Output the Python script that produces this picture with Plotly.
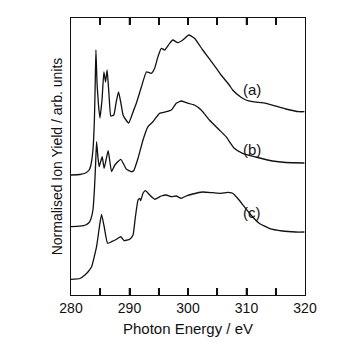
import plotly.graph_objects as go

# Photon energy (eV) and normalised ion yield (arb. units) for each spectrum
energy_a = [280, 281.5, 282.5, 283.1, 283.4, 283.75, 284.0, 284.15, 284.26, 284.45, 284.7, 284.95,
            285.3, 285.62, 285.91, 286.18, 286.5, 286.81, 287.32, 287.7, 288.12, 288.5, 288.9, 289.4,
            289.87, 290.6, 291.18, 292.03, 292.89, 293.74, 294.3, 294.86, 295.44, 296.0, 296.85,
            297.41, 298.26, 299.11, 300.14, 301.11, 302.52, 304.22, 305.65, 307.06, 307.63, 309.06,
            309.91, 311.03, 313.31, 316.71, 318.98, 319.9]
yield_a = [120, 120.5, 122, 125, 130, 145, 175, 215, 245, 212, 190, 177,
           195, 223, 213, 225, 200, 179, 180, 192, 203, 193, 180, 175,
           172, 183, 192, 208, 223, 221.7, 226.7, 238.3, 246.7, 245, 251.7,
           255, 252.3, 255, 260, 256.7, 245, 231.7, 220, 210, 205, 197.7,
           195, 193.3, 191.7, 186, 183.3, 183.3]

energy_b = [280, 281.5, 282.5, 283.1, 283.4, 283.75, 284.0, 284.2, 284.37, 284.6, 284.82, 285.33,
            285.67, 286.35, 286.93, 287.49, 288.51, 289.48, 290.33, 290.72, 291.46, 292.31, 293.16,
            294.01, 295.15, 296.29, 297.14, 297.99, 298.84, 299.69, 301.11, 302.25, 303.66, 305.36,
            306.5, 307.91, 309.33, 311.6, 314.43, 316.71, 319.9]
yield_b = [68.3, 68.8, 70, 72.5, 76, 85, 105, 130, 153.3, 138, 128.3, 138.3,
           126.7, 144.3, 123.3, 130, 135.7, 125.7, 123.3, 124.3, 136.7, 155, 168.3,
           173.3, 181.7, 183.3, 185, 191.7, 194, 192.3, 190, 185, 175, 165,
           158.3, 146.7, 141.7, 138, 134, 132.5, 132]

energy_c = [280, 281.53, 282.38, 282.89, 283.52, 284.37, 284.94, 285.23, 285.67, 286.25, 286.93,
            287.78, 288.51, 289.07, 290.04, 290.6, 291.01, 291.46, 291.74, 291.91, 292.31, 292.71,
            293.45, 294.3, 295.44, 296.29, 297.14, 297.99, 298.84, 299.69, 300.82, 302.52, 304.22,
            305.65, 306.77, 307.63, 308.48, 309.62, 310.76, 312.17, 313.87, 316.14, 318.42, 319.9]
yield_c = [15.7, 16.5, 20, 23, 28.3, 48.3, 71.7, 80.7, 68.3, 51.7, 53.3,
           55.7, 58.3, 54.3, 55.7, 60, 78.3, 95, 96.7, 94.3, 101.7, 104.3,
           100, 95.7, 99, 100, 98.3, 99, 96.7, 99, 101, 103, 102.3,
           101.7, 102.7, 101.7, 96.7, 88.3, 80, 71.7, 66.7, 64, 63, 63]

labels = ["(a)", "(b)", "(c)"]
label_x = [311.0, 311.0, 311.0]
label_y = [206, 146, 83]

x_tick_vals = [280, 285, 290, 295, 300, 305, 310, 315, 320]
x_tick_text = ["280", "", "290", "", "300", "", "310", "", "320"]

INK = "#111111"
TICK_FRAC = 7 / 277.0  # tick length as a fraction of plot height

fig = go.Figure()
for ex, yy in [(energy_a, yield_a), (energy_b, yield_b), (energy_c, yield_c)]:
    fig.add_trace(go.Scatter(x=ex, y=yy, mode="lines",
                             line=dict(color=INK, width=1.3, shape="spline", smoothing=0.4),
                             showlegend=False, hoverinfo="skip"))

# inward tick marks at the axis tick positions, bottom and top
for v in x_tick_vals[1:-1]:
    fig.add_shape(type="line", xref="x", yref="paper", x0=v, x1=v, y0=0, y1=TICK_FRAC,
                  line=dict(color=INK, width=1.6), layer="above")
    fig.add_shape(type="line", xref="x", yref="paper", x0=v, x1=v, y0=1 - TICK_FRAC, y1=1,
                  line=dict(color=INK, width=1.5), layer="above")

for t, lx, ly in zip(labels, label_x, label_y):
    fig.add_annotation(x=lx, y=ly, text=t, showarrow=False,
                       font=dict(family="Liberation Sans, Arial", size=15, color=INK))

fig.update_layout(
    width=351, height=351,
    margin=dict(l=71, r=46, t=18, b=56),
    paper_bgcolor="white", plot_bgcolor="white",
    font=dict(family="Liberation Sans, Arial", size=14, color=INK),
    xaxis=dict(range=[280, 320], tickmode="array", tickvals=x_tick_vals, ticktext=x_tick_text,
               ticks="inside", ticklen=7, tickwidth=1.6, tickcolor=INK,
               showline=True, linecolor=INK, linewidth=1.2, mirror="ticks",
               showgrid=False, zeroline=False, tickfont=dict(size=14),
               title=dict(text="Photon Energy / eV", standoff=8, font=dict(size=15))),
    yaxis=dict(range=[0, 277], showticklabels=False, ticks="",
               showline=True, linecolor=INK, linewidth=1.2, mirror=True,
               showgrid=False, zeroline=False,
               title=dict(text="Normalised Ion Yield / arb. units", standoff=4, font=dict(size=14))),
)

fig.write_html("out.html")
